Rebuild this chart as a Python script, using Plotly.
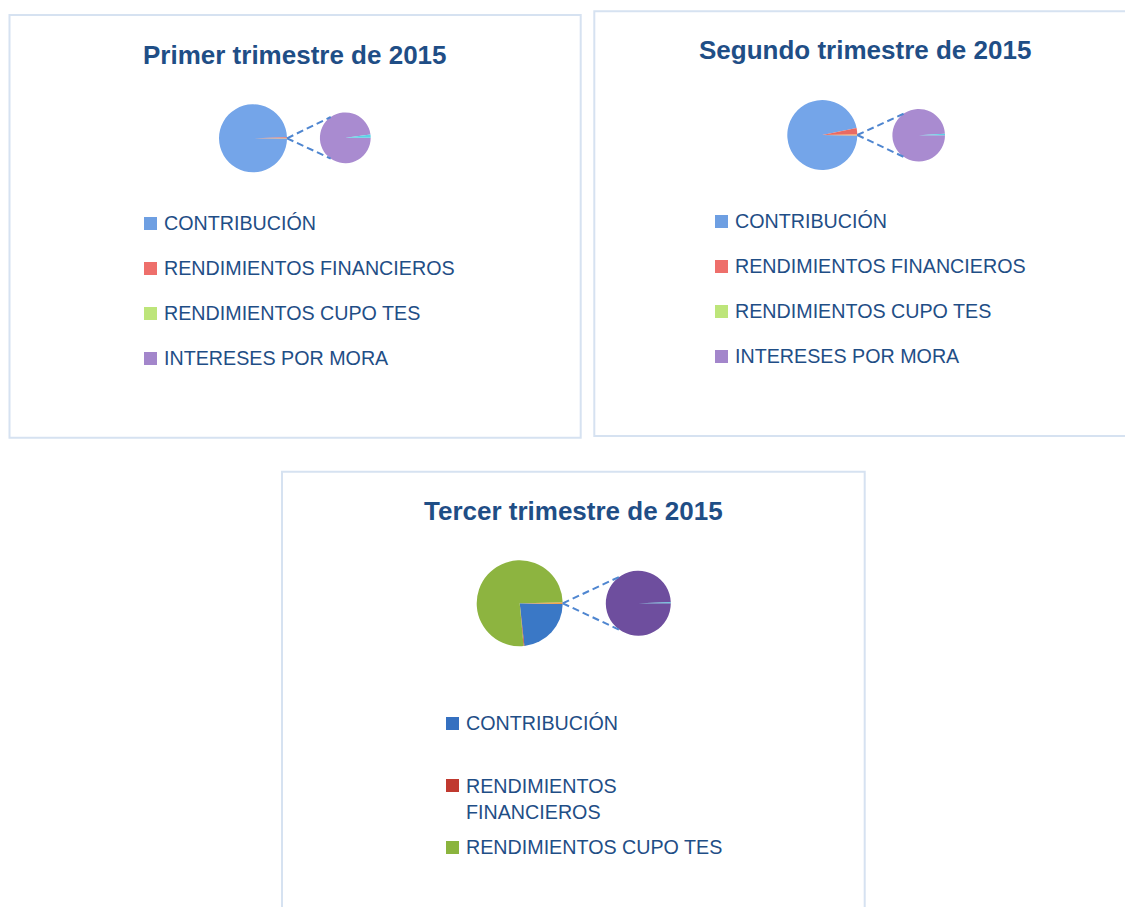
import plotly.graph_objects as go
import math

W, H = 1125, 907

# ---------------- data ----------------
titles = ["Primer trimestre de 2015", "Segundo trimestre de 2015", "Tercer trimestre de 2015"]
main_labels = ["CONTRIBUCIÓN", "RENDIMIENTOS FINANCIEROS", "RENDIMIENTOS CUPO TES", "Otro"]
second_labels = ["INTERESES POR MORA", "OTROS"]

q1_main = [99.4, 0.3, 0.0, 0.3]
q1_second = [98.0, 2.0]
q2_main = [96.5, 3.0, 0.0, 0.5]
q2_second = [99.0, 1.0]
q3_main = [23.0, 0.3, 76.2, 0.5]
q3_second = [99.5, 0.5]

legend_q12 = ["CONTRIBUCIÓN", "RENDIMIENTOS FINANCIEROS", "RENDIMIENTOS CUPO TES", "INTERESES POR MORA"]
legend_q3 = ["CONTRIBUCIÓN", "RENDIMIENTOS<br>FINANCIEROS", "RENDIMIENTOS CUPO TES"]

# ---------------- styles ----------------
TXT = "#1F4E86"
BORDER = "#D6E2F1"
light_main = ["#74A5E9", "#E86A64", "#B5DE72", "#F5A356"]
light_second = ["#A98BD0", "#5CD2E6"]
dark_main = ["#3A78C6", "#BF3B3B", "#8DB440", "#F39A3A"]
dark_second = ["#6E4E9E", "#4FC0DE"]
legend_light = ["#6E9FE2", "#EE6F6B", "#BDE57A", "#A386CB"]
legend_dark = ["#3570C0", "#C0392F", "#8BB43E"]

FONT = "Liberation Sans"

panels = [
    dict(title=titles[0], tx=295, ty=55, main=q1_main, second=q1_second,
         mc=(253, 138.3), mr=34, sc=(345.3, 137.8), sr=25.4,
         cmain=light_main, csec=light_second,
         leg=legend_q12, legc=legend_light, lx=144, ly=[223, 268, 313, 358]),
    dict(title=titles[1], tx=865, ty=50, main=q2_main, second=q2_second,
         mc=(822.3, 135), mr=35, sc=(918.7, 135.3), sr=26.3,
         cmain=light_main, csec=light_second,
         leg=legend_q12, legc=legend_light, lx=715, ly=[221, 266, 311, 356]),
    dict(title=titles[2], tx=573, ty=511, main=q3_main, second=q3_second,
         mc=(519.7, 603.3), mr=43, sc=(638.3, 603.3), sr=32.5,
         cmain=dark_main, csec=dark_second,
         leg=legend_q3, legc=legend_dark, lx=446, ly=[723, 799, 847]),
]

def px_x(x):
    return x / W

def px_y(y):
    return 1 - y / H

fig = go.Figure()
shapes = []
annotations = []

# panel frames
frames = [(9.5, 15, 580.7, 437.7), (594.3, 11.3, 1135, 436), (282, 471.7, 864.7, 920)]
for (x0, y0, x1, y1) in frames:
    shapes.append(dict(type="rect", xref="paper", yref="paper",
                       x0=px_x(x0), x1=px_x(x1), y0=px_y(y1), y1=px_y(y0),
                       line=dict(color=BORDER, width=2), fillcolor="rgba(0,0,0,0)", layer="below"))

for p in panels:
    cx, cy = p["mc"]
    r = p["mr"]
    total = sum(p["main"])
    other_deg = 360 * p["main"][-1] / total
    fig.add_trace(go.Pie(
        labels=main_labels, values=p["main"], sort=False, direction="clockwise",
        rotation=90 + other_deg / 2, textinfo="none", hoverinfo="label+percent",
        marker=dict(colors=p["cmain"], line=dict(width=0)), showlegend=False,
        domain=dict(x=[px_x(cx - r), px_x(cx + r)], y=[px_y(cy + r), px_y(cy - r)])))
    sx, sy = p["sc"]
    sr = p["sr"]
    fig.add_trace(go.Pie(
        labels=second_labels, values=p["second"], sort=False, direction="clockwise",
        rotation=90, textinfo="none", hoverinfo="label+percent",
        marker=dict(colors=p["csec"], line=dict(width=0)), showlegend=False,
        domain=dict(x=[px_x(sx - sr), px_x(sx + sr)], y=[px_y(sy + sr), px_y(sy - sr)])))
    # connector lines (pie-of-pie)
    start = (cx + r, cy)
    for ang in (-125, 125):
        ex = sx + sr * math.cos(math.radians(ang))
        ey = sy + sr * math.sin(math.radians(ang))
        shapes.append(dict(type="line", xref="paper", yref="paper",
                           x0=px_x(start[0]), y0=px_y(start[1]), x1=px_x(ex), y1=px_y(ey),
                           line=dict(color="#4F86D0", width=2, dash="7px,4px")))
    # title
    annotations.append(dict(text="<b>%s</b>" % p["title"], x=px_x(p["tx"]), y=px_y(p["ty"]),
                            xref="paper", yref="paper", showarrow=False,
                            xanchor="center", yanchor="middle",
                            font=dict(family=FONT, size=26, color=TXT)))
    # legend
    for name, col, ly in zip(p["leg"], p["legc"], p["ly"]):
        multi = "<br>" in name
        sq_y = ly - 14 if multi else ly
        shapes.append(dict(type="rect", xref="paper", yref="paper",
                           x0=px_x(p["lx"]), x1=px_x(p["lx"] + 13),
                           y0=px_y(sq_y + 7), y1=px_y(sq_y - 6),
                           line=dict(width=0), fillcolor=col))
        annotations.append(dict(text=name, x=px_x(p["lx"] + 18), y=px_y(ly),
                                xref="paper", yref="paper", showarrow=False,
                                xanchor="left", yanchor="middle", align="left",
                                font=dict(family=FONT, size=19.7, color=TXT)))

fig.update_layout(width=W, height=H, margin=dict(l=0, r=0, t=0, b=0),
                  paper_bgcolor="white", plot_bgcolor="white",
                  shapes=shapes, annotations=annotations, showlegend=False)

fig.write_html("out.html", config={"displayModeBar": False},
               post_script="document.body.style.margin='0';document.body.style.overflow='hidden';")
